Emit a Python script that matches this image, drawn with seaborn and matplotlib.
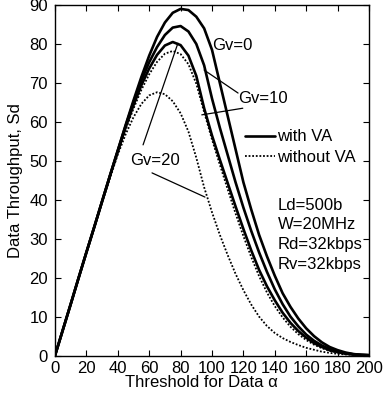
import numpy as np
import pandas as pd
import matplotlib
matplotlib.use("Agg")
import matplotlib.pyplot as plt
import seaborn as sns
from matplotlib.lines import Line2D

# ---- data ----
alpha = list(range(0, 201, 5))

gv0_va = [0, 6.6, 13.2, 19.9, 26.5, 33, 39.6, 46.2, 52.7, 59.2, 65.5, 71.5, 77, 81.8, 85.5, 88, 89,
          88.7, 87, 84, 78.5, 70, 61.5, 53, 44.5, 37.5, 31, 25.5, 20.5, 16, 12.5, 9.5, 7, 5, 3.4,
          2.2, 1.4, 0.8, 0.4, 0.2, 0.1]
gv10_va = [0, 6.6, 13.2, 19.9, 26.5, 33, 39.6, 46.2, 52.6, 59, 65, 70.6, 75.3, 79.2, 82.3, 84.2, 84.6,
           83.2, 80, 74.5, 66, 58.5, 51.5, 44.5, 38, 32, 26.5, 21.5, 17, 13.2, 10, 7.5, 5.4, 3.8, 2.6,
           1.7, 1.1, 0.6, 0.35, 0.2, 0.1]
gv20_va = [0, 6.6, 13.2, 19.9, 26.5, 33, 39.6, 46.1, 52.4, 58.6, 64.3, 69.4, 73.7, 77.2, 79.6, 80.5, 79.7,
           77, 71.8, 63.5, 56.5, 50.3, 44.3, 38.3, 32.5, 27, 22, 17.8, 14.2, 11, 8.4, 6.3, 4.6, 3.2, 2.2,
           1.4, 0.9, 0.5, 0.3, 0.15, 0.1]
gv10_nova = [0, 6.6, 13.2, 19.9, 26.5, 33, 39.5, 46, 52.2, 58, 63.4, 68.2, 72.2, 75.4, 77.5, 78.2, 77.4,
             74.8, 69.8, 62.5, 55.5, 49, 42.7, 36.5, 30.7, 25.3, 20.4, 16.2, 12.7, 9.8, 7.4, 5.5, 4, 2.8,
             1.9, 1.2, 0.8, 0.45, 0.25, 0.12, 0.05]
gv20_nova = [0, 6.6, 13.2, 19.9, 26.5, 33, 39.3, 45.6, 51.6, 56.8, 61.2, 64.6, 66.8, 67.6, 67.1, 65.3, 62.2,
             57.5, 50.8, 43.2, 36.8, 31, 25.8, 21, 16.8, 13.1, 10, 7.6, 5.8, 4.5, 3.5, 2.7, 2.0, 1.5,
             1.0, 0.7, 0.45, 0.3, 0.2, 0.1, 0.05]

x_ticks = list(range(0, 201, 20))
y_ticks = list(range(0, 91, 10))
params_text = ["Ld=500b", "W=20MHz", "Rd=32kbps", "Rv=32kbps"]

# ---- style ----
sns.set_style("ticks")
plt.rcParams["font.family"] = ["Liberation Sans", "DejaVu Sans"]
plt.rcParams["xtick.direction"] = "in"
plt.rcParams["ytick.direction"] = "in"
plt.rcParams["text.color"] = "black"
plt.rcParams["axes.labelcolor"] = "black"
plt.rcParams["xtick.color"] = "black"
plt.rcParams["ytick.color"] = "black"
plt.rcParams["axes.edgecolor"] = "black"

fig = plt.figure(figsize=(3.83, 4.0), dpi=100)
ax = fig.add_axes([0.1436, 0.111, 0.8198, 0.8765])

FS = 12
solid_kw = dict(color="black", linewidth=1.9, linestyle="-")
dot_kw = dict(color="black", linewidth=1.3, linestyle=(0, (1.0, 1.0)))

series = [(gv0_va, solid_kw), (gv10_va, solid_kw), (gv20_va, solid_kw),
          (gv10_nova, dot_kw), (gv20_nova, dot_kw)]
for ys, kw in series:
    df = pd.DataFrame({"alpha": alpha, "S": ys})
    sns.lineplot(data=df, x="alpha", y="S", ax=ax, legend=False, **kw)

ax.set_xlim(0, 200)
ax.set_ylim(0, 90)
ax.set_xticks(x_ticks)
ax.set_yticks(y_ticks)
ax.tick_params(axis="both", which="both", top=True, right=True, labelsize=FS,
               length=4, width=0.8, color="black", labelcolor="black", pad=4)
ax.tick_params(axis="y", pad=5)
for s in ax.spines.values():
    s.set_visible(True)
    s.set_color("black")
    s.set_linewidth(1.0)

ax.set_xlabel("Threshold for Data α", fontsize=FS)
ax.set_ylabel("Data Throughput, Sd", fontsize=FS)
ax.xaxis.set_label_coords(0.465, -0.055)
ax.yaxis.set_label_coords(-0.102, 0.5)

# ---- annotations ----
line_kw = dict(arrowstyle="-", color="black", lw=0.9, shrinkA=0, shrinkB=0)
ax.text(112.7, 79.7, "Gv=0", fontsize=FS, ha="center", va="center")

ax.text(132.5, 65.9, "Gv=10", fontsize=FS, ha="center", va="center")
ax.annotate("", xy=(alpha[19], gv10_va[19] - 1.2), xytext=(116.6, 67.4), arrowprops=line_kw)
ax.annotate("", xy=(alpha[19] - 1.5, gv10_nova[19] - 0.7), xytext=(119.6, 63.5), arrowprops=line_kw)

ax.text(63.7, 50.2, "Gv=20", fontsize=FS, ha="center", va="center")
ax.annotate("", xy=(alpha[16] - 1.7, gv20_va[16] + 0.5), xytext=(56.1, 54.1), arrowprops=line_kw)
ax.annotate("", xy=(alpha[19] + 0.5, gv20_nova[19] - 2.5), xytext=(61.8, 46.9), arrowprops=line_kw)

handles = [Line2D([], [], **solid_kw), Line2D([], [], **dot_kw)]
leg = ax.legend(handles, ["with VA", "without VA"], loc="center left",
                bbox_to_anchor=(0.605, 0.594), frameon=False, fontsize=FS,
                handlelength=1.8, handletextpad=0.15, labelspacing=0.35,
                borderpad=0, borderaxespad=0)

ax.text(142, 40.5, "\n".join(params_text), fontsize=FS, ha="left", va="top",
        linespacing=1.38)

fig.savefig("out.png", dpi=100)
